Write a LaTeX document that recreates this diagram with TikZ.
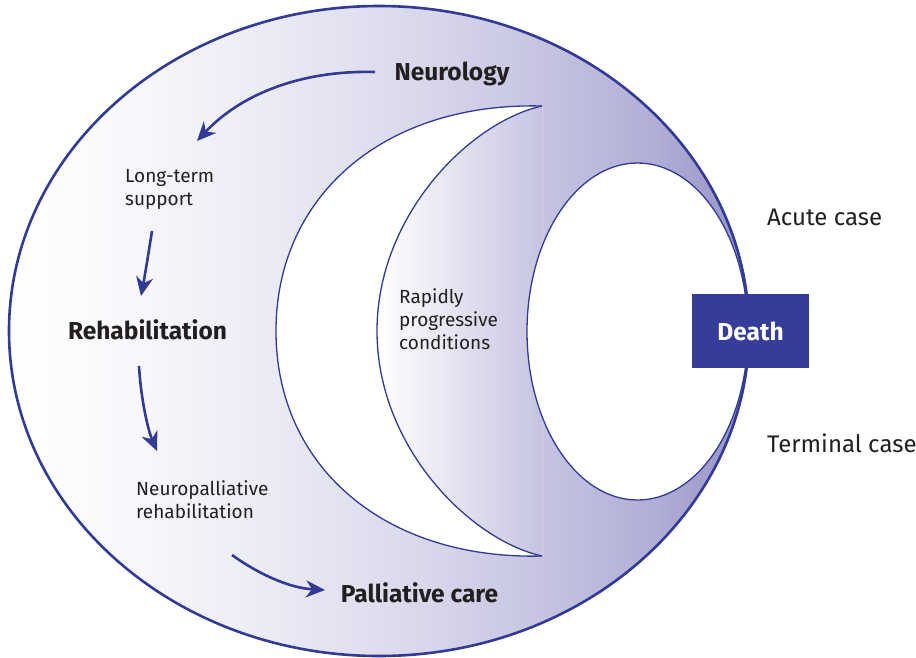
\documentclass[tikz,border=0pt]{standalone}
\usepackage{fontspec}
\setmainfont{Fira Sans}
\usetikzlibrary{arrows.meta}
\definecolor{navy}{HTML}{323A96}
\definecolor{boxblue}{HTML}{353D98}
\definecolor{txt}{HTML}{231F20}
\definecolor{faintline}{HTML}{D2D0E9}
\definecolor{g0}{HTML}{FFFFFF}
\definecolor{g1}{HTML}{FAFAFD}
\definecolor{g2}{HTML}{EDEDF6}
\definecolor{g3}{HTML}{DCDBED}
\definecolor{g4}{HTML}{C6C4E1}
\definecolor{g5}{HTML}{B2AFD7}
\definecolor{g6}{HTML}{9692C6}
\pgfdeclarehorizontalshading{mainshade}{100bp}{color(0bp)=(g0); color(25bp)=(g0); color(31.15bp)=(g1); color(41.28bp)=(g2); color(51.42bp)=(g3); color(61.01bp)=(g4); color(68.31bp)=(g5); color(75bp)=(g6); color(100bp)=(g6)}
\tikzset{
  thinline/.style={draw=navy, line width=1.3pt},
  flowarrow/.style={draw=navy, line width=2.6pt, -{Stealth[length=19pt, width=17pt, inset=6pt]}},
  biglabel/.style={font=\fontsize{24.5}{29}\selectfont\bfseries, text=txt, inner sep=0},
  smalllabel/.style={font=\fontsize{19}{23}\selectfont, text=txt, inner sep=0, align=left},
  caselabel/.style={font=\fontsize{24}{29}\selectfont, text=txt, inner sep=0},
}
\begin{document}
\begin{tikzpicture}[x=1pt,y=-1pt]
\useasboundingbox (0,0) rectangle (916,657);
% outer ellipse shading
\path[shading=mainshade] (379,331) ellipse [x radius=370, y radius=325];
% white crescent area
\fill[white] (542,106) .. controls (385,102) and (276,195) .. (276,331)
  .. controls (276,467) and (385,560) .. (542,556) -- cycle;
% inner region with its own gradient
\path[left color=white, right color=g4] (542,106) .. controls (470,122) and (377,215) .. (377,331)
  .. controls (377,447) and (470,540) .. (542,556) -- cycle;
\draw[faintline, line width=0.8pt] (542,106) -- (542,556);
% crescent outlines
\draw[thinline] (542,106) .. controls (385,102) and (276,195) .. (276,331)
  .. controls (276,467) and (385,560) .. (542,556);
\draw[thinline] (542,106) .. controls (470,122) and (377,215) .. (377,331)
  .. controls (377,447) and (470,540) .. (542,556);
% white inner ellipse
\draw[thinline, fill=white] (637.5,331.5) ellipse [x radius=110.5, y radius=168.5];
% outer ellipse outline
\draw[navy, line width=2.6pt] (379,331) ellipse [x radius=370, y radius=325];
% death box
\node[fill=boxblue, minimum width=117pt, minimum height=74pt, inner sep=0,
  text=white, font=\fontsize{24.5}{29}\selectfont\bfseries] (death) at (750.5,331) {Death};
% labels
\node[biglabel, anchor=base] (neuro) at (452,80.7) {Neurology};
\node[biglabel, anchor=base] (rehab) at (147.5,339) {Rehabilitation};
\node[biglabel, anchor=base] (pall) at (419.5,602) {Palliative care};
\node[smalllabel, anchor=base west] (lts) at (125,205) {Long-term\\support};
\node[smalllabel, anchor=base west] (npr) at (136,518) {Neuropalliative\\rehabilitation};
\node[smalllabel, anchor=base west] (rpc) at (399,349) {Rapidly\\progressive\\conditions};
\node[caselabel, anchor=base west] (acute) at (767,225) {Acute case};
\node[caselabel, anchor=base west] (term) at (767,452.5) {Terminal case};
% arrow endpoints
\coordinate (a1s) at (375,72);
\coordinate (a1e) at (197,141);
\coordinate (a2s) at (152,231);
\coordinate (a2e) at (141,296);
\coordinate (a3s) at (139,366);
\coordinate (a3e) at (157,451);
\coordinate (a4s) at (232,555);
\coordinate (a4e) at (325,590);
\draw[flowarrow] (a1s) .. controls (300,70) and (240,95) .. (a1e);
\draw[flowarrow] (a2s) .. controls (149,250) and (145,275) .. (a2e);
\draw[flowarrow] (a3s) .. controls (141,400) and (148,430) .. (a3e);
\draw[flowarrow] (a4s) .. controls (260,575) and (290,588) .. (a4e);
\end{tikzpicture}
\end{document}
